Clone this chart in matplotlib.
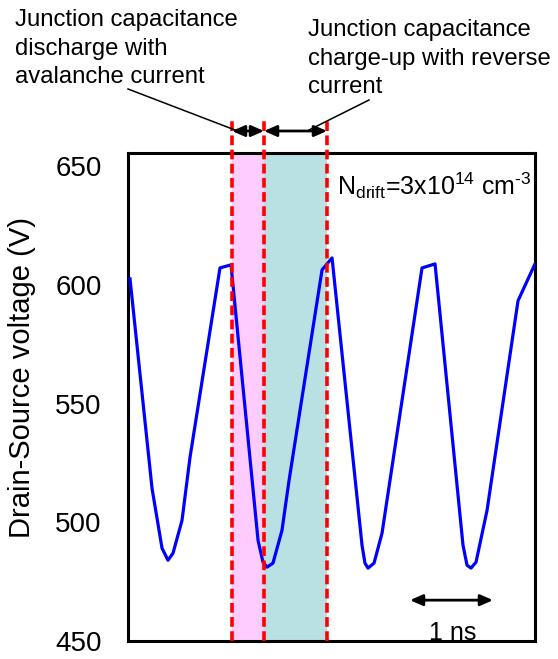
import matplotlib
matplotlib.use("Agg")
import matplotlib.pyplot as plt

plt.rcParams['font.family'] = ['Liberation Sans', 'DejaVu Sans']
plt.rcParams['mathtext.fontset'] = 'custom'
plt.rcParams['mathtext.rm'] = 'Liberation Sans'
plt.rcParams['mathtext.it'] = 'Liberation Sans:italic'
plt.rcParams['lines.scale_dashes'] = False

# drain-source voltage waveform (time in ns)
time_ns = [0.024, 0.286, 0.405, 0.476, 0.536, 0.643, 0.738, 1.095, 1.226,
           1.548, 1.607, 1.655, 1.726, 1.833, 1.917, 2.310, 2.429,
           2.786, 2.821, 2.857, 2.929, 3.024, 3.500, 3.655,
           3.988, 4.036, 4.083, 4.143, 4.274, 4.643, 4.845]
vds_v = [602.5, 514.3, 489.1, 484.0, 487.0, 500.8, 527.3, 607.1, 608.4,
         492.4, 483.2, 481.1, 482.8, 496.6, 517.6, 606.3, 611.3,
         490.3, 482.8, 480.7, 482.8, 495.4, 607.1, 608.8,
         490.3, 481.9, 480.7, 483.2, 505.0, 593.3, 608.8]

# boundaries of the discharge / charge-up phases (ns)
phase_edges = [1.238, 1.619, 2.369]
y_ticks = [450, 500, 550, 600, 650]

label_left = ["Junction capacitance", "discharge with", "avalanche current"]
label_right = ["Junction capacitance", "charge-up with reverse", "current"]

W, H = 558, 659
fig = plt.figure(figsize=(W / 100, H / 100), dpi=100)
ax = fig.add_axes([128 / W, 1 - 641 / H, (535 - 128) / W, (641 - 153) / H])


def fy(y):
    # image pixel row -> figure fraction
    return 1 - y / H


ax.axvspan(phase_edges[0], phase_edges[1], color='#FFCCFF', lw=0, zorder=1)
ax.axvspan(phase_edges[1], phase_edges[2], color='#B9E0E3', lw=0, zorder=1)

ax.plot(time_ns, vds_v, color='#0000FF', lw=2.3, zorder=3)

for x in phase_edges:
    ax.axvline(x, ymin=0, ymax=1.068, color='#FF0000', lw=2.6,
               dashes=(7, 3.2), clip_on=False, zorder=4)

ax.set_xlim(0, 4.845)
ax.set_ylim(450, 655.5)
ax.set_xticks([])
ax.set_yticks(y_ticks)
ax.tick_params(axis='y', length=0, pad=19, labelsize=20)
for s in ax.spines.values():
    s.set_linewidth(2.2)
ax.set_ylabel("Drain-Source voltage (V)", fontsize=21)
ax.yaxis.set_label_coords(-0.226, 0.539)

# double arrows above the plot marking the two phases
trans = ax.get_xaxis_transform()
ay = (641 - 131) / 488
arrow = dict(arrowstyle='<|-|>,head_length=0.5,head_width=0.22',
             mutation_scale=15, lw=2, color='black', shrinkA=0, shrinkB=0)
ax.annotate("", xy=(phase_edges[0], ay), xytext=(phase_edges[1], ay),
            xycoords=trans, textcoords=trans, arrowprops=arrow,
            annotation_clip=False)
ax.annotate("", xy=(phase_edges[1], ay), xytext=(phase_edges[2], ay),
            xycoords=trans, textcoords=trans, arrowprops=arrow,
            annotation_clip=False)

# leader lines from the captions
fig.add_artist(plt.Line2D([128 / W, 235 / W], [fy(89), fy(130)],
                          color='black', lw=1.1))
fig.add_artist(plt.Line2D([369 / W, 309 / W], [fy(100), fy(130)],
                          color='black', lw=1.1))

for i, line in enumerate(label_left):
    fig.text(15 / W, fy(26 + 28.5 * i), line, fontsize=17.2,
             va='baseline', ha='left')
for i, line in enumerate(label_right):
    fig.text(308 / W, fy(36 + 28.5 * i), line, fontsize=17.2,
             va='baseline', ha='left')

ax.text(337 / W, fy(195),
        r"N$_\mathrm{drift}$=3x10$^\mathrm{14}$ cm$^{\text{-}\mathrm{3}}$",
        transform=fig.transFigure, fontsize=18, va='baseline', ha='left')

# 1 ns scale bar
ax.annotate("", xy=(3.357, 467.2), xytext=(4.345, 467.2), arrowprops=arrow)
ax.text(3.87, 450.5, "1 ns", fontsize=18, ha='center', va='baseline')

fig.savefig("out.png", dpi=100)
